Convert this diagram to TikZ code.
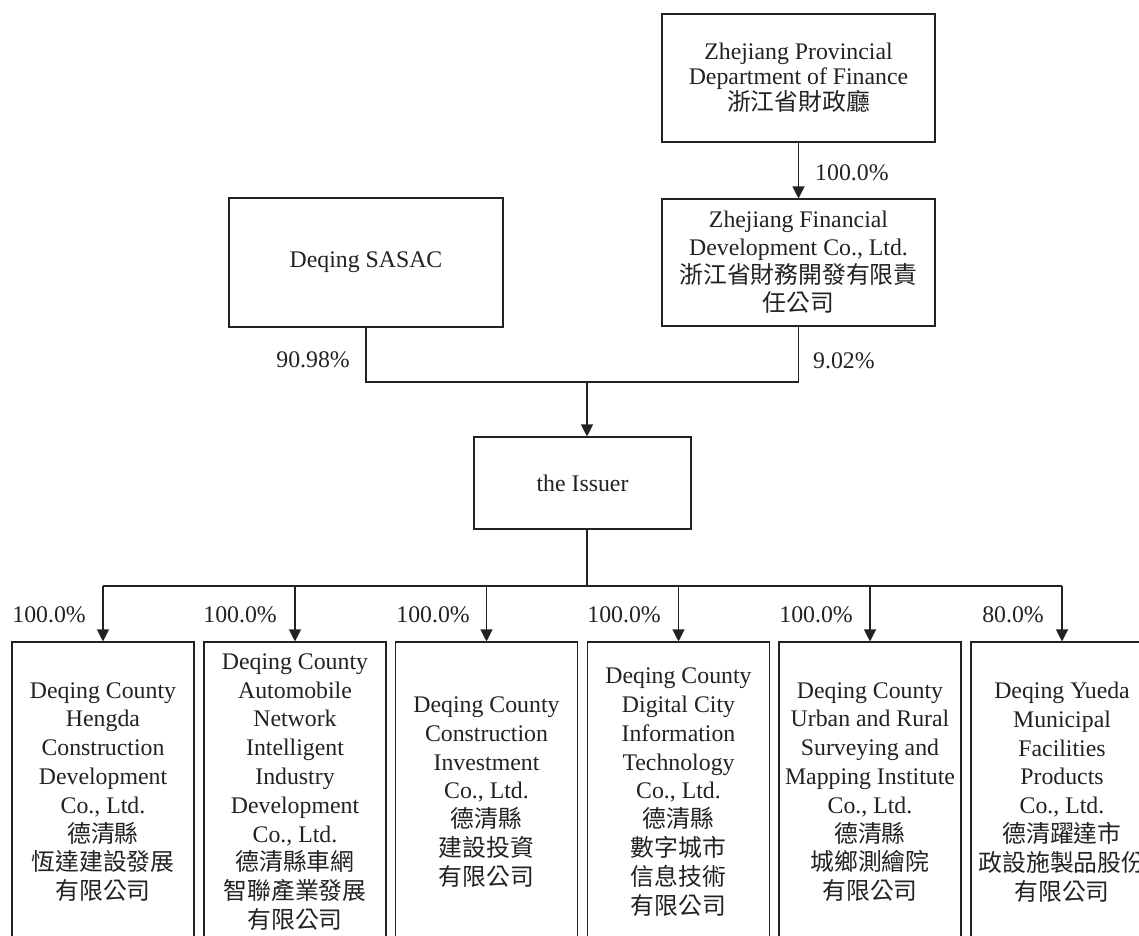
\documentclass[tikz,border=0pt]{standalone}
\usepackage{fontspec}
\setmainfont{Liberation Serif}
\newfontfamily\cjk{Noto Sans CJK TC}
\usetikzlibrary{arrows.meta}
\definecolor{ink}{HTML}{222222}
\begin{document}
\begin{tikzpicture}[x=1pt,y=-1pt,
  every node/.style={text=ink},
  box/.style={draw=ink, line width=1.1pt, align=center, inner sep=0pt,
    font=\fontsize{23.8}{28.8}\selectfont},
  lbl/.style={inner sep=0pt, font=\fontsize{23.8}{28.8}\selectfont},
  conn/.style={draw=ink, line width=1.1pt},
  arr/.style={conn, -{Triangle[length=12pt,width=12pt]}}]
\path[use as bounding box, clip] (0,0) rectangle (1139,935);
\fill[white] (0,0) rectangle (1139,935);

% top boxes
\node[box, minimum width=273pt, minimum height=128pt,
  font=\fontsize{23.8}{25}\selectfont] (prov) at (798.5,78)
  {Zhejiang Provincial\\Department of Finance\\{\cjk 浙江省財政廳}};
\node[box, minimum width=273pt, minimum height=127pt,
  font=\fontsize{23.8}{28}\selectfont] (fin) at (798.5,262.5)
  {Zhejiang Financial\\Development Co., Ltd.\\{\cjk 浙江省財務開發有限責}\\{\cjk 任公司}};
\node[box, minimum width=274pt, minimum height=129pt] (sasac) at (366,262.5) {Deqing SASAC};
\node[box, minimum width=217pt, minimum height=92pt] (issuer) at (582.5,483) {the Issuer};

% bottom boxes
\node[box, minimum width=182pt, minimum height=300pt] (c1) at (103,792)
  {Deqing County\\Hengda\\Construction\\Development\\Co., Ltd.\\{\cjk 德清縣}\\{\cjk 恆達建設發展}\\{\cjk 有限公司}};
\node[box, minimum width=182pt, minimum height=300pt] (c2) at (295,792)
  {Deqing County\\Automobile\\Network\\Intelligent\\Industry\\Development\\Co., Ltd.\\{\cjk 德清縣車網}\\{\cjk 智聯產業發展}\\{\cjk 有限公司}};
\node[box, minimum width=182pt, minimum height=300pt] (c3) at (486.5,792)
  {Deqing County\\Construction\\Investment\\Co., Ltd.\\{\cjk 德清縣}\\{\cjk 建設投資}\\{\cjk 有限公司}};
\node[box, minimum width=182pt, minimum height=300pt] (c4) at (678.5,792)
  {Deqing County\\Digital City\\Information\\Technology\\Co., Ltd.\\{\cjk 德清縣}\\{\cjk 數字城市}\\{\cjk 信息技術}\\{\cjk 有限公司}};
\node[box, minimum width=182pt, minimum height=300pt] (c5) at (870,792)
  {Deqing County\\Urban and Rural\\Surveying and\\Mapping Institute\\Co., Ltd.\\{\cjk 德清縣}\\{\cjk 城鄉測繪院}\\{\cjk 有限公司}};
\node[box, minimum width=182pt, minimum height=300pt] (c6) at (1062,792)
  {Deqing Yueda\\Municipal\\Facilities\\Products\\Co., Ltd.\\{\cjk 德清躍達市}\\{\cjk 政設施製品股份}\\{\cjk 有限公司}};

% connectors top
\draw[arr] (prov.south) -- (fin.north);
\coordinate (jL) at (366,382);
\coordinate (jR) at (798.5,382);
\coordinate (jM) at (587,382);
\draw[conn] (sasac.south) -- (jL) -- (jR) -- (fin.south);
\draw[arr] (jM) -- (jM |- issuer.north);

% connectors bottom
\coordinate (hM) at (587,586);
\coordinate (h1) at (103,586);
\coordinate (h6) at (1062,586);
\draw[conn] (hM |- issuer.south) -- (hM);
\draw[conn] (h1) -- (h6);
\foreach \c in {c1,c2,c3,c4,c5,c6}
  \draw[arr] (\c.north |- h1) -- (\c.north);

% labels
\node[lbl, anchor=west] (l0) at (815,173) {100.0\%};
\node[lbl, anchor=east] (la) at (350,360) {90.98\%};
\node[lbl, anchor=west] (lb) at (813,361) {9.02\%};
\node[lbl, anchor=east] (l1) at (86,615) {100.0\%};
\node[lbl, anchor=east] (l2) at (277,615) {100.0\%};
\node[lbl, anchor=east] (l3) at (470,615) {100.0\%};
\node[lbl, anchor=east] (l4) at (661,615) {100.0\%};
\node[lbl, anchor=east] (l5) at (853,615) {100.0\%};
\node[lbl, anchor=east] (l6) at (1044,615) {80.0\%};
\end{tikzpicture}
\end{document}
